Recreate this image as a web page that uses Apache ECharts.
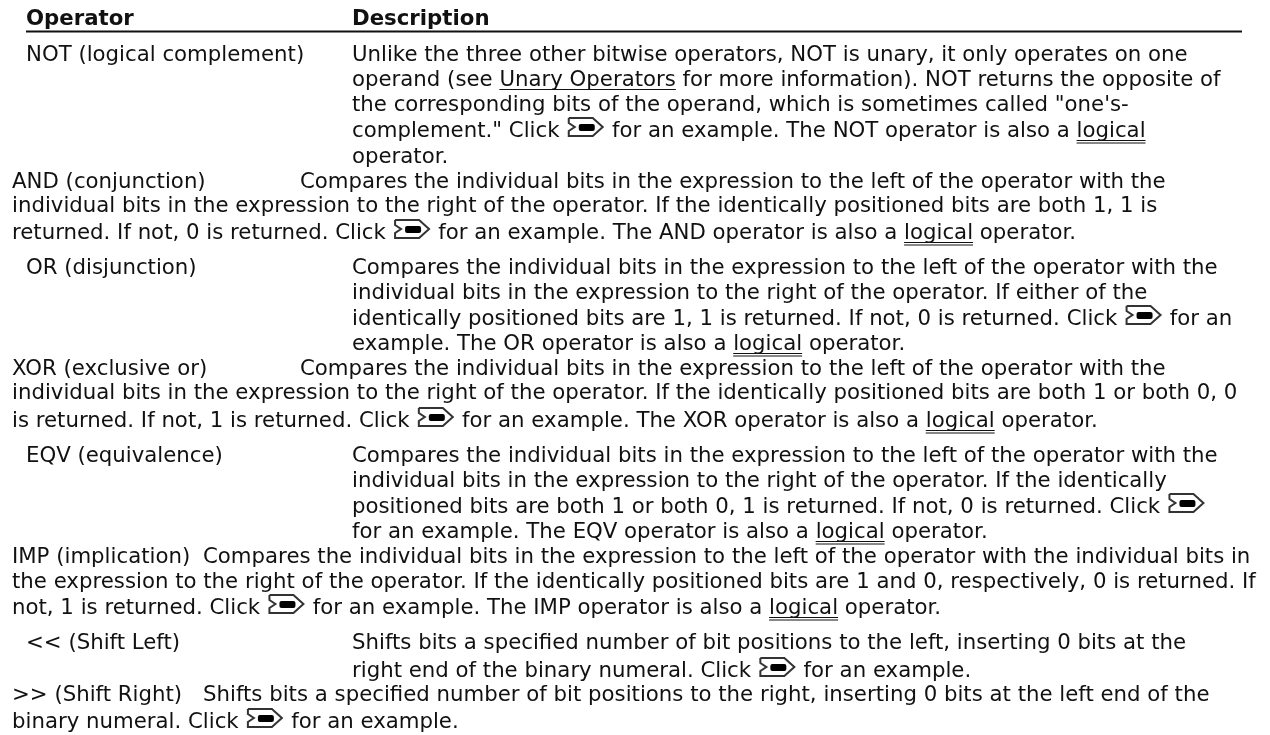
<!DOCTYPE html>
<html>
<head>
<meta charset="utf-8">
<style>
html, body { margin: 0; padding: 0; background: #fff; }
#main { width: 1270px; height: 735px; }
</style>
<script src="https://cdn.jsdelivr.net/npm/echarts@6/dist/echarts.min.js"></script>
</head>
<body>
<div id="main"></div>
<script>
// [L] = underlined link word, [U] = Unary Operators link, [I] = example icon
var headers = ['Operator', 'Description'];
var rowTexts = [
    'NOT (logical complement)',
    'Unlike the three other bitwise operators, NOT is unary, it only operates on one',
    'operand (see [U] for more information). NOT returns the opposite of',
    'the corresponding bits of the operand, which is sometimes called "one\'s-',
    'complement." Click [I] for an example. The NOT operator is also a [L]',
    'operator.',
    'AND (conjunction)',
    'Compares the individual bits in the expression to the left of the operator with the',
    'individual bits in the expression to the right of the operator. If the identically positioned bits are both 1, 1 is',
    'returned. If not, 0 is returned. Click [I] for an example. The AND operator is also a [L] operator.',
    'OR (disjunction)',
    'Compares the individual bits in the expression to the left of the operator with the',
    'individual bits in the expression to the right of the operator. If either of the',
    'identically positioned bits are 1, 1 is returned. If not, 0 is returned. Click [I] for an',
    'example. The OR operator is also a [L] operator.',
    'XOR (exclusive or)',
    'Compares the individual bits in the expression to the left of the operator with the',
    'individual bits in the expression to the right of the operator. If the identically positioned bits are both 1 or both 0, 0',
    'is returned. If not, 1 is returned. Click [I] for an example. The XOR operator is also a [L] operator.',
    'EQV (equivalence)',
    'Compares the individual bits in the expression to the left of the operator with the',
    'individual bits in the expression to the right of the operator. If the identically',
    'positioned bits are both 1 or both 0, 1 is returned. If not, 0 is returned. Click [I]',
    'for an example. The EQV operator is also a [L] operator.',
    'IMP (implication)',
    'Compares the individual bits in the expression to the left of the operator with the individual bits in',
    'the expression to the right of the operator. If the identically positioned bits are 1 and 0, respectively, 0 is returned. If',
    'not, 1 is returned. Click [I] for an example. The IMP operator is also a [L] operator.',
    '<< (Shift Left)',
    'Shifts bits a specified number of bit positions to the left, inserting 0 bits at the',
    'right end of the binary numeral. Click [I] for an example.',
    '>> (Shift Right)',
    'Shifts bits a specified number of bit positions to the right, inserting 0 bits at the left end of the',
    'binary numeral. Click [I] for an example.'
];
var rowX = [26, 352, 352, 352, 352, 352, 12, 300, 12, 12, 26, 352, 352, 352, 352, 12, 300, 12, 12,
    26, 352, 352, 352, 352, 12, 203, 12, 12, 26, 352, 352, 12, 203, 12];
var rowY = [55, 55, 80, 105, 131, 157, 182, 182, 206, 233, 268, 268, 293, 319, 344, 369, 369, 393, 421,
    456, 456, 481, 507, 532, 557, 557, 582, 608, 643, 643, 671, 695, 695, 722];
var linkNames = { '[L]': 'logical', '[U]': 'Unary Operators' };

var FONT_SIZE = 21.28;
var FONT = '"DejaVu Sans"';
var TEXT_COLOR = '#111';

var measureCtx = document.createElement('canvas').getContext('2d');
measureCtx.font = FONT_SIZE + 'px ' + FONT;

function textItem(str, x, y, weight) {
    return {
        type: 'text',
        silent: true,
        style: {
            x: x, y: y, text: str,
            font: (weight || 'normal') + ' ' + FONT_SIZE + 'px ' + FONT,
            fill: TEXT_COLOR,
            verticalAlign: 'middle'
        }
    };
}

function lineItem(x1, y1, x2, y2, w) {
    return {
        type: 'line',
        silent: true,
        shape: { x1: x1, y1: y1, x2: x2, y2: y2 },
        style: { stroke: TEXT_COLOR, lineWidth: w }
    };
}

function iconItem(x, y) {
    return {
        type: 'group',
        x: x,
        y: y,
        silent: true,
        children: [
            { type: 'polyline', shape: { points: [[1, 1], [25, 1], [35, 10], [25, 19], [1, 19], [1, 14], [7, 10], [1, 6], [1, 1]] },
              style: { stroke: '#333', lineWidth: 2, fill: '#fff' } },
            { type: 'rect', shape: { x: 11, y: 7, width: 16, height: 7, r: 2 }, style: { fill: '#000' } }
        ]
    };
}

var elements = [];
elements.push(textItem(headers[0], 26, 19, 'bold'));
elements.push(textItem(headers[1], 352, 19, 'bold'));
elements.push(lineItem(26, 31.5, 1242, 31.5, 2));

rowTexts.forEach(function (row, i) {
    var x = rowX[i];
    var y = rowY[i];
    row.split(/(\[[ULI]\])/).forEach(function (part) {
        if (!part) return;
        if (part === '[I]') {
            elements.push(iconItem(x + 1.5, y - 14));
            x += 39;
        } else if (linkNames[part]) {
            var word = linkNames[part];
            var w = measureCtx.measureText(word).width;
            elements.push(textItem(word, x, y));
            elements.push(lineItem(x, y + 9.5, x + w, y + 9.5, 1));
            if (part === '[L]') {
                elements.push(lineItem(x, y + 12, x + w, y + 12, 1));
            }
            x += w;
        } else {
            elements.push(textItem(part, x, y));
            x += measureCtx.measureText(part).width;
        }
    });
});

var chart = echarts.init(document.getElementById('main'));
chart.setOption({
    backgroundColor: '#fff',
    animation: false,
    graphic: { elements: elements }
});
</script>
</body>
</html>
